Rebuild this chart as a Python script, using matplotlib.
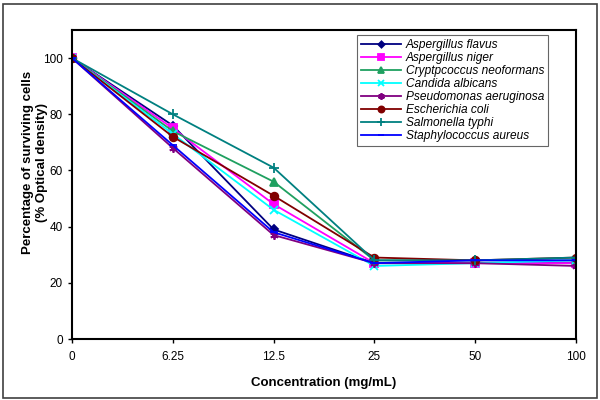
import matplotlib
matplotlib.use("Agg")
import matplotlib.pyplot as plt
from matplotlib.patches import Rectangle

plt.rcParams['font.family'] = ['Liberation Sans', 'DejaVu Sans']

concentrations = ["0", "6.25", "12.5", "25", "50", "100"]
species = ["Aspergillus flavus", "Aspergillus niger", "Cryptpcoccus neoformans",
           "Candida albicans", "Pseudomonas aeruginosa", "Escherichia coli",
           "Salmonella typhi", "Staphylococcus aureus"]
a_flavus = [100, 76, 39, 27, 27, 27]
a_niger = [100, 75, 48, 27, 27, 27]
c_neoformans = [100, 74, 56, 28, 28, 28]
c_albicans = [100, 73, 46, 26, 27, 28]
p_aeruginosa = [100, 68, 37, 27, 27, 26]
e_coli = [100, 72, 51, 29, 28, 29]
s_typhi = [100, 80, 61, 28, 28, 29]
s_aureus = [100, 69, 38, 27, 28, 28]
series = [a_flavus, a_niger, c_neoformans, c_albicans, p_aeruginosa, e_coli, s_typhi, s_aureus]

colors = ["#000080", "#FF00FF", "#1FA060", "#00FFFF", "#800080", "#800000", "#008080", "#0000FF"]
markers = ["D", "s", "^", "x", (6, 2, 0), "o", "+", "_"]
msizes = [4, 5.5, 5.5, 6, 6, 5.5, 7, 6]

fig = plt.figure(figsize=(6, 4), dpi=100)
ax = fig.add_axes([0.12, 0.1525, 0.84, 0.7725])
xs = list(range(len(concentrations)))
for name, vals, c, m, ms in zip(species, series, colors, markers, msizes):
    ax.plot(xs, vals, color=c, marker=m, markersize=ms, linewidth=1.3,
            markeredgewidth=1.3, label=name)

ax.set_xlim(0, 5)
ax.set_ylim(0, 110)
ax.set_yticks([0, 20, 40, 60, 80, 100])
ax.set_xticks(xs)
ax.set_xticklabels(concentrations)
ax.tick_params(axis='both', labelsize=8.5, direction='out', length=3, width=1)
ax.tick_params(axis='x', pad=6)
for s in ax.spines.values():
    s.set_linewidth(1.5)
ax.set_xlabel("Concentration (mg/mL)", fontsize=9.5, fontweight='bold', labelpad=10)
ax.set_ylabel("Percentage of surviving cells\n(% Optical density)", fontsize=9.5,
              fontweight='bold')
ax.yaxis.set_label_coords(-0.048, 0.57)

leg = ax.legend(loc='upper left', bbox_to_anchor=(0.559, 0.995),
                prop={'style': 'italic', 'size': 8.6}, frameon=True, fancybox=False,
                borderpad=0.35, labelspacing=0.08, handlelength=3.3, handletextpad=0.4,
                markerscale=0.8, borderaxespad=0.3)
leg.get_frame().set_edgecolor('#404040')
leg.get_frame().set_linewidth(0.8)

fig.patches.append(Rectangle((0.005, 0.005), 0.99, 0.985, transform=fig.transFigure,
                             fill=False, edgecolor='#404040', linewidth=1.2))
fig.savefig("out.png", dpi=100)
